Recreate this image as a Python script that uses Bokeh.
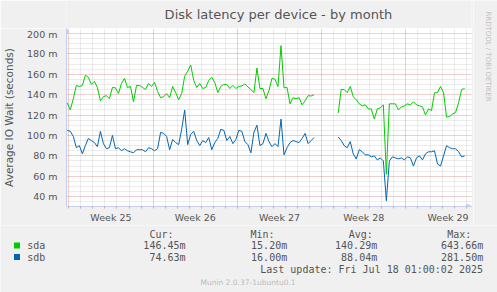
import numpy as np
from bokeh.plotting import figure
from bokeh.layouts import column, row
from bokeh.models import FixedTicker, Range1d, Arrow, NormalHead
from bokeh.core.properties import value
from bokeh.embed import file_html
from bokeh.resources import INLINE

nan = float("nan")

# time axis: days since Monday of week 25, one sample every 6 hours
start_day = -0.125
step_days = 0.25

sda = [132, 125, 136, 149, 148, 149, 159, 157, 150, 153, 147, 134, 138, 139, 136, 147, 146.7, 141, 151, 156,
       147, 148, 133, 149, 149, 147, 145, 151, 148, 152, 143, 137, 138,
       141, 137, 148, 142, 135, 141, 158, 163, 169, 154, 147, 151, 146, 147, 154, 157, 152, 142, 148, 150,
       150, 146, 149, 146, 148, 148.5, 150.5, 147.5, 145, 142, 166, 146,
       146, 136, 144, 156, 155, 148, 188, 146.7, 147, 131, 137, 136, 137, 130, 134, 139, 138.6, 140,
       nan, nan, nan, nan, nan, nan, nan,
       122, 145, 145, 142, 148, 138, 135, 131,
       129, 130, 126, 126, 116, 126, 127, 130, 62, 131, 131, 131, 125, 128, 129, 131, 130, 133, 130, 129,
       128, 120, 126, 124.5, 141.8, 142, 148, 142, 118, 118.5, 121, 122.6, 132, 145, 146]

sdb = [105, 104, 99, 88, 90, 82, 90, 97, 95, 93, 89, 104, 92, 87, 88, 100, 87, 88, 85, 87,
       85, 84, 83, 86, 86, 86, 84, 88, 87, 85, 87, 103, 102,
       99, 86, 96, 93, 91, 106, 125, 91, 101, 104, 95, 90, 95, 93, 98, 86, 93, 97, 106, 105,
       95, 99, 92, 96, 105, 104, 94, 91, 83, 103, 110, 90,
       92, 102, 94, 89, 92, 89, 116, 81, 88, 93, 95, 94, 93, 97, 102, 92, 95, 98,
       nan, nan, nan, nan, nan, nan, nan,
       98.5, 95, 90, 88, 94, 82, 77, 86,
       84, 81, 81, 79, 80, 76, 78, 75, 36, 75, 79, 78, 77, 78, 76, 79, 78, 70, 78, 80,
       76, 82, 84, 84, 85, 72, 70, 80, 90, 88, 87, 87, 84, 79, 80]

week_starts = [0, 7, 14, 21, 28]
week_labels = ["Week 25", "Week 26", "Week 27", "Week 28", "Week 29"]
y_ticks = [40, 60, 80, 100, 120, 140, 160, 180, 200]

series_names = ["sda", "sdb"]
series_colors = ["#00cc00", "#0066b3"]
cur_vals = ["146.45m", "74.63m"]
min_vals = ["15.20m", "16.00m"]
avg_vals = ["140.29m", "88.04m"]
max_vals = ["643.66m", "281.50m"]

title = "Disk latency per device - by month"
y_label = "Average IO Wait (seconds)"
last_update = "Last update: Fri Jul 18 01:00:02 2025"
munin_ver = "Munin 2.0.37-1ubuntu0.1"
rrd_credit = "RRDTOOL / TOBI OETIKER"

BG = "#f0f0f0"
TXT = "#555555"
W, H = 497, 292
TOP_H = 28          # title strip height
MAIN_W = 473        # main plot width
MID_B = 225         # bottom of the main plot row (page px)
FL, FB = 66, 209    # frame left / axis line in page px

x = start_day + step_days * np.arange(len(sda))


def strip(w, h):
    f = figure(width=w, height=h, output_backend="svg", toolbar_location=None,
               x_range=Range1d(0, w), y_range=Range1d(0, h),
               x_axis_location=None, y_axis_location=None, min_border=0)
    f.grid.visible = False
    f.outline_line_color = None
    f.background_fill_color = BG
    f.border_fill_color = BG
    return f


def put(f, s, X, Y, size, color, font="DejaVu Sans", align="left", angle=0.0):
    f.text(x=[X], y=[Y], text=[s], text_font=value(font), text_font_size=value(size),
           text_color=color, text_align=align, text_baseline="middle", angle=angle)


# ---------- title strip ----------
t_fig = strip(MAIN_W, TOP_H)
put(t_fig, title, 247.5, TOP_H - 13.5, "13px", TXT, align="center")

# ---------- main plot ----------
y_lo = 40 - (FB - 199) / 1.0375
y_hi = 200 + (33 - TOP_H) / 1.0375
x_lo = (FL - 68.3) / 12.04
x_hi = (471 - 68.3) / 12.04
p = figure(width=MAIN_W, height=MID_B - TOP_H, output_backend="svg", toolbar_location=None,
           x_range=Range1d(x_lo, x_hi), y_range=Range1d(y_lo, y_hi),
           min_border_left=FL, min_border_right=MAIN_W - 471, min_border_top=0,
           min_border_bottom=MID_B - FB)
p.background_fill_color = "#ffffff"
p.border_fill_color = BG
p.outline_line_color = None

p.xgrid.ticker = FixedTicker(ticks=week_starts, minor_ticks=list(range(-1, 35)))
p.ygrid.ticker = FixedTicker(ticks=y_ticks, minor_ticks=list(range(30, 205, 5)))
for g in (p.xgrid, p.ygrid):
    g.grid_line_color = "#ff0000"
    g.grid_line_alpha = 0.25
    g.grid_line_dash = "1 1"
    g.minor_grid_line_color = "#a0a0a0"
    g.minor_grid_line_alpha = 0.4
    g.minor_grid_line_dash = "1 1"

axis_col = "#c4ccf0"
xa = p.xaxis[0]
xa.ticker = FixedTicker(ticks=[d + 3.5 for d in week_starts], minor_ticks=list(range(0, 34)))
xa.major_label_overrides = {d + 3.5: lab for d, lab in zip(week_starts, week_labels)}
xa.major_tick_line_color = None
xa.major_tick_out = 0
xa.minor_tick_out = 2
xa.minor_tick_in = 0
xa.minor_tick_line_color = "#b0b0b0"
xa.axis_line_color = axis_col
xa.major_label_standoff = 3
xa.major_label_text_font = "DejaVu Sans"
xa.major_label_text_font_size = "9.5px"
xa.major_label_text_color = TXT

ya = p.yaxis[0]
ya.ticker = FixedTicker(ticks=y_ticks)
ya.major_label_overrides = {t: f"{t} m" for t in y_ticks}
ya.major_tick_line_color = None
ya.minor_tick_line_color = None
ya.major_tick_out = 0
ya.axis_line_color = axis_col
ya.major_label_standoff = 9
ya.major_label_text_font = "DejaVu Sans"
ya.major_label_text_font_size = "9.5px"
ya.major_label_text_color = TXT
ya.axis_label = y_label
ya.axis_label_text_font = "DejaVu Sans"
ya.axis_label_text_font_size = "10.5px"
ya.axis_label_text_font_style = "normal"
ya.axis_label_text_color = TXT
ya.axis_label_standoff = 9

for vals, col in zip([sda, sdb], series_colors):
    p.line(x, vals, line_color=col, line_width=1)

p.add_layout(Arrow(end=NormalHead(size=5, fill_color=axis_col, line_color=axis_col),
                   x_start=33.0, y_start=y_lo, x_end=x_hi, y_end=y_lo, line_color=axis_col))
p.add_layout(Arrow(end=NormalHead(size=5, fill_color=axis_col, line_color=axis_col),
                   x_start=x_lo, y_start=200, x_end=x_lo, y_end=y_hi, line_color=axis_col))

# ---------- right strip ----------
r_fig = strip(W - MAIN_W, MID_B)
put(r_fig, rrd_credit, 487.5 - MAIN_W, MID_B - 56, "7px", "#c0c0c0", align="center", angle=-np.pi / 2)

# ---------- legend strip ----------
LH = H - MID_B
l_fig = strip(W, LH)
mono = "DejaVu Sans Mono"
for lab, X in zip(["Cur:", "Min:", "Avg:", "Max:"], [149, 250, 348.3, 446.7]):
    put(l_fig, lab, X, H - 233.5, "10px", TXT, font=mono)
for k, (nm, col) in enumerate(zip(series_names, series_colors)):
    Y = H - (245 + 11.5 * k)
    l_fig.rect(x=[16.5], y=[Y], width=6, height=6, fill_color=col, line_color=None)
    put(l_fig, nm, 26.7, Y, "10px", TXT, font=mono)
    put(l_fig, cur_vals[k], 185, Y, "10px", TXT, font=mono, align="right")
    put(l_fig, min_vals[k], 286.7, Y, "10px", TXT, font=mono, align="right")
    put(l_fig, avg_vals[k], 376.7, Y, "10px", TXT, font=mono, align="right")
    put(l_fig, max_vals[k], 482.7, Y, "10px", TXT, font=mono, align="right")
put(l_fig, last_update, 482.5, H - 269, "10px", TXT, font=mono, align="right")
put(l_fig, munin_ver, 247.5, H - 281.5, "7.5px", "#bbbbbb", align="center")

layout = column(row(column(t_fig, p, spacing=0), r_fig, spacing=0), l_fig, spacing=0)
open("out.html", "w").write(file_html(layout, INLINE))
